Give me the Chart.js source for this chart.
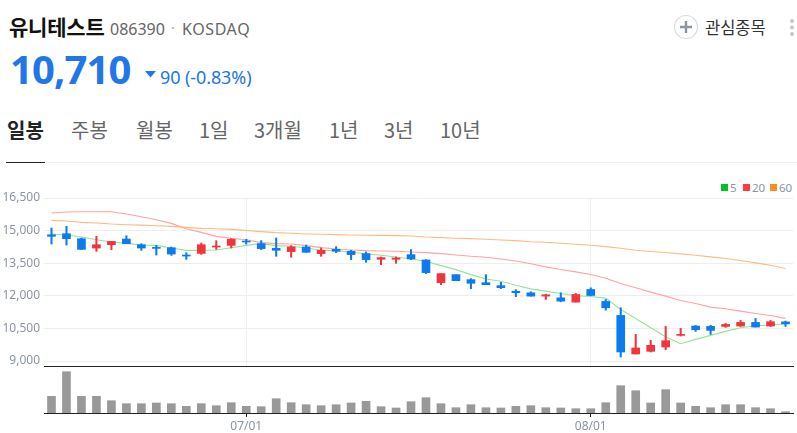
<!DOCTYPE html>
<html lang="ko"><head><meta charset="utf-8">
<script src="https://cdn.jsdelivr.net/npm/chart.js@4/dist/chart.umd.min.js"></script>
<style>
html,body{margin:0;padding:0;background:#fff;width:797px;height:433px;overflow:hidden;font-family:"Noto Sans CJK KR","Noto Sans",sans-serif}
.t{position:absolute;white-space:nowrap;line-height:1}
canvas{position:absolute;left:0}
.lg{position:absolute;top:184px;width:7px;height:7px}
.lt{position:absolute;top:181px;font:11.5px/13px "Noto Sans";color:#8b95a1}
</style></head><body>
<div class="t" style="left:9px;top:16px;font-size:21px;font-weight:700;color:#111;letter-spacing:-.2px">유니테스트</div>
<div class="t" style="left:110px;top:21px;font-size:16px;color:#666;font-family:'Noto Sans'">086390</div>
<div class="t" style="left:171px;top:20px;font-size:14px;color:#aaa">·</div>
<div class="t" style="left:182px;top:21px;font-size:16px;color:#666;font-family:'Noto Sans';letter-spacing:.6px">KOSDAQ</div>
<div class="t" style="left:10px;top:49px;font-size:40px;font-weight:700;color:#2176e8;font-family:'Noto Sans';letter-spacing:-.9px">10,710</div>
<div class="t" style="left:160px;top:68px;font-size:18px;color:#2176e8;font-family:'Noto Sans';letter-spacing:-.1px">90 (-0.83%)</div>
<svg style="position:absolute;left:145px;top:71px" width="11" height="7"><path d="M0 0H11L5.5 6.5Z" fill="#2176e8"/></svg>
<svg style="position:absolute;left:673px;top:14px" width="26" height="26"><circle cx="13" cy="13" r="11.5" fill="#fff" stroke="#d8dce2" stroke-width="1.2"/><path d="M13 7V19M7 13H19" stroke="#8c96a3" stroke-width="2.4"/></svg>
<div class="t" style="left:705px;top:19px;font-size:16.5px;color:#333">관심종목</div>
<svg style="position:absolute;left:788px;top:17px" width="8" height="22"><circle cx="4" cy="4" r="2" fill="#c4c8ce"/><circle cx="4" cy="10.5" r="2" fill="#c4c8ce"/><circle cx="4" cy="17" r="2" fill="#c4c8ce"/></svg>
<div class="t" style="left:7px;top:120px;font-size:20px;font-weight:700;color:#222">일봉</div>
<div class="t" style="left:71px;top:120px;font-size:20px;color:#666">주봉</div>
<div class="t" style="left:136px;top:120px;font-size:20px;color:#666">월봉</div>
<div class="t" style="left:199px;top:120px;font-size:20px;color:#666">1일</div>
<div class="t" style="left:254px;top:120px;font-size:20px;color:#666">3개월</div>
<div class="t" style="left:329px;top:120px;font-size:20px;color:#666">1년</div>
<div class="t" style="left:384px;top:120px;font-size:20px;color:#666">3년</div>
<div class="t" style="left:440px;top:120px;font-size:20px;color:#666">10년</div>
<div style="position:absolute;left:6px;right:0;top:162px;height:1px;background:#f0f0f0"></div>
<div style="position:absolute;left:6px;width:39px;top:162px;height:1px;background:#222"></div>
<div id="legend"></div>
<canvas id="price" style="top:190px;width:797px;height:178px" width="797" height="178"></canvas>
<canvas id="vol" style="top:367px;width:797px;height:66px" width="797" height="66"></canvas>
<script>
const dates=['06/12','06/13','06/14','06/17','06/18','06/19','06/20','06/21','06/24','06/25','06/26','06/27','06/28','07/01','07/02','07/03','07/04','07/05','07/08','07/09','07/10','07/11','07/12','07/15','07/16','07/17','07/18','07/19','07/22','07/23','07/24','07/25','07/26','07/29','07/30','07/31','08/01','08/02','08/05','08/06','08/07','08/08','08/09','08/12','08/13','08/14','08/16','08/19','08/20','08/21'];
const markedDates=['07/01','08/01'];
const priceTicks=[9000,10500,12000,13500,15000,16500];
const opens =[14811,14858,14627,14197,14351,14612,14351,14228,14213,13875,13952,14244,14320,14520,14401,14186,14033,14248,13941,14140,14048,13941,13680,13680,13895,13649,12605,12974,12744,12605,12467,12206,12138,11985,11908,11709,12291,11740,11097,9322,9445,9644,10179,10608,10592,10592,10608,10776,10608,10800];
const closes=[14735,14627,14136,14351,14505,14397,14197,14182,13921,13829,14351,14290,14597,14474,14171,14094,14248,14002,14094,14048,13895,13665,13757,13741,13695,13066,13020,12697,12575,12513,12375,12145,11985,12046,11755,12061,12015,11449,9414,9598,9720,9935,10225,10439,10409,10684,10776,10562,10807,10710];
const highs =[15118,15195,14658,14735,14505,14765,14397,14320,14243,13983,14428,14535,14627,14597,14540,14662,14309,14340,14202,14263,14094,14018,13787,13787,14125,13665,13020,12974,12790,12974,12621,12283,12184,12077,12138,12107,12367,11832,11449,10225,9950,10592,10500,10638,10638,10730,10868,10960,10868,10837];
const lows  =[14382,14336,14136,14044,14121,14397,14090,13875,13860,13676,13906,14136,14198,14382,14125,13818,13772,14002,13818,13987,13665,13542,13434,13496,13665,13020,12513,12697,12329,12513,12329,11961,11985,11832,11725,11709,12015,11342,9185,9322,9414,9521,10149,10363,10225,10546,10592,10562,10592,10592];
const ma5 =[14842,14796,14704,14581,14474,14412,14336,14320,14197,14090,14090,14105,14213,14320,14400,14309,14278,14202,14094,14079,14002,13926,13864,13787,13695,13588,13388,13204,12974,12775,12667,12483,12318,12214,12107,12000,11970,11893,11373,10960,10531,10118,9797,9996,10179,10363,10531,10623,10654,10700];
const ma20=[15809,15855,15870,15870,15870,15763,15640,15502,15333,15088,14919,14735,14643,14581,14445,14401,14386,14309,14217,14155,14110,14079,14064,14048,14018,13987,13941,13880,13818,13772,13695,13603,13475,13331,13209,13102,12979,12811,12566,12367,12168,11985,11786,11648,11480,11403,11296,11189,11097,10960];
const ma60=[15472,15440,15380,15350,15303,15272,15250,15226,15195,15149,15103,15088,15057,15011,14955,14908,14877,14847,14831,14816,14800,14785,14780,14770,14754,14708,14678,14647,14631,14601,14570,14540,14490,14463,14417,14371,14326,14264,14188,14096,14035,13989,13928,13867,13790,13714,13622,13515,13408,13255];
const volumes=[16.7,41.3,16.7,16.7,12.3,9.3,9.3,10,9.3,6.7,9.3,7.3,10.3,6.7,6.3,14.3,10.3,8.3,7.3,8.3,10,11.7,6.3,5,11.3,15.3,9.3,5.3,8.3,5.3,5,6.7,7.3,5.3,5,4.3,4.3,10.3,27.3,22.3,10,23.3,10,6.7,5.3,8.3,8.3,5.3,4.3,1.3];
const seriesNames=['5','20','60'];
const legendColors=['#00c31f','#ff3b3b','#ff8c1a'];
const legendBoxX=[721,743,770];
const lineColors=['#95e495','#ffa3a3','#fdbb80'];
const upColor='#f0353d',downColor='#0b7bee',gridColor='#eeeeee',axisText='#8b95a1',axisLine='#222222';

const lg=document.getElementById('legend');
seriesNames.forEach((n,i)=>{
  lg.insertAdjacentHTML('beforeend',`<div class="lg" style="left:${legendBoxX[i]}px;background:${legendColors[i]}"></div><div class="lt" style="left:${legendBoxX[i]+9}px">${n}</div>`);
});

const candleColor=c=>closes[c.dataIndex]>=opens[c.dataIndex]?upColor:downColor;
const isMarked=i=>markedDates.includes(dates[i]);
const lineDs=(i,d)=>({type:'line',label:seriesNames[i],data:d,borderColor:lineColors[i],borderWidth:1.1,pointRadius:0,tension:0,order:2});

new Chart(document.getElementById('price'),{
  data:{labels:dates,datasets:[
    {type:'bar',label:'body',data:opens.map((o,i)=>[o,closes[i]]),backgroundColor:candleColor,barThickness:8,grouped:false,order:0},
    {type:'bar',label:'wick',data:lows.map((l,i)=>[l,highs[i]]),backgroundColor:candleColor,barThickness:1.4,grouped:false,order:1},
    lineDs(0,ma5),lineDs(1,ma20),lineDs(2,ma60)
  ]},
  options:{responsive:false,animation:false,devicePixelRatio:1,
    layout:{padding:{right:4,left:0,top:8,bottom:2}},
    plugins:{tooltip:{enabled:false},legend:{display:false}},
    scales:{
      x:{offset:true,ticks:{display:false,autoSkip:false},
        afterFit:s=>{s.height=0;s.paddingLeft=0;s.paddingRight=0},
        grid:{offset:false,drawTicks:false,color:c=>isMarked(c.index)?gridColor:'rgba(0,0,0,0)'},
        border:{display:true,color:axisLine,width:1}},
      y:{min:8770,max:16500,
        afterFit:s=>{s.width=44;s.paddingTop=0;s.paddingBottom=0},
        afterBuildTicks:s=>{s.ticks=priceTicks.map(v=>({value:v}))},
        ticks:{color:axisText,font:{size:12,family:'Noto Sans'},padding:4,callback:v=>v.toLocaleString('en-US')},
        grid:{color:gridColor,drawTicks:false},border:{display:false}}
    }}
});

new Chart(document.getElementById('vol'),{
  type:'bar',
  data:{labels:dates,datasets:[{label:'volume',data:volumes,backgroundColor:'#999999',barThickness:8}]},
  options:{responsive:false,animation:false,devicePixelRatio:1,
    layout:{padding:{left:44,right:4,top:0,bottom:0}},
    plugins:{legend:{display:false},tooltip:{enabled:false}},
    scales:{
      x:{offset:true,
        afterFit:s=>{s.height=20;s.paddingLeft=0;s.paddingRight=0},
        ticks:{color:axisText,font:{size:12,family:'Noto Sans'},autoSkip:false,maxRotation:0,padding:2,callback:(v,i)=>isMarked(i)?dates[i]:''},
        grid:{offset:false,drawOnChartArea:false,tickLength:4,tickColor:c=>isMarked(c.index)?axisLine:'rgba(0,0,0,0)'},
        border:{display:true,color:axisLine,width:1}},
      y:{display:false,min:0,max:46}
    }}
});
</script>
</body></html>
